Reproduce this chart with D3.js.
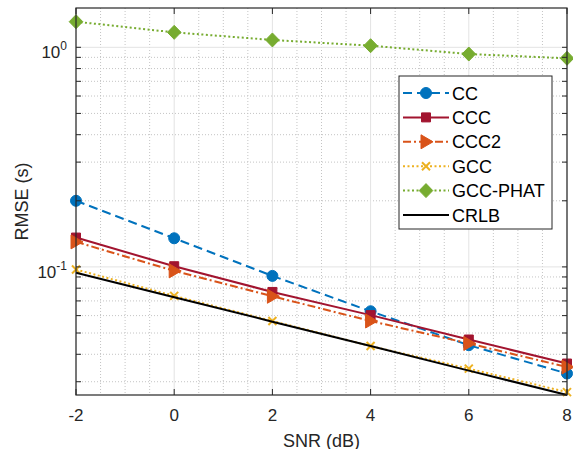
<!DOCTYPE html>
<html>
<head>
<meta charset="utf-8">
<script src="https://cdn.jsdelivr.net/npm/d3@7"></script>
<style>
  body { margin: 0; background: #fff; }
  svg { display: block; font-family: "Liberation Sans", Arial, sans-serif; }
</style>
</head>
<body>
<div id="chart"></div>
<script>
/**
 * Data.
 */
const snr = [-2, 0, 2, 4, 6, 8];
const cc = [0.200, 0.135, 0.091, 0.0628, 0.0440, 0.0327];
const ccc = [0.136, 0.1007, 0.0769, 0.0603, 0.0467, 0.0363];
const ccc2 = [0.130, 0.0959, 0.0735, 0.0567, 0.0448, 0.0350];
const gcc = [0.0973, 0.0738, 0.0567, 0.0436, 0.0344, 0.0269];
const gccPhat = [1.308, 1.170, 1.080, 1.017, 0.932, 0.891];
const crlb = [0.0940, 0.0728, 0.0563, 0.0436, 0.0337, 0.0261];
const seriesNames = ["CC", "CCC", "CCC2", "GCC", "GCC-PHAT", "CRLB"];
const xTicks = [-2, 0, 2, 4, 6, 8];
const yTicks = [1, 0.1];

/**
 * Dimensions.
 */
const Margin = { top: 8, right: 6, bottom: 54, left: 76 };
const Width = 573 - Margin.left - Margin.right;
const Height = 449 - Margin.top - Margin.bottom;
const AxisColor = "#262626";

// One style per series, same order as seriesNames.
const styles = [
    { color: "#0072BD", dash: "9,5", marker: "circle" },
    { color: "#A2142F", dash: null, marker: "square" },
    { color: "#D95319", dash: "8,3,2,3", marker: "triangle" },
    { color: "#EDB120", dash: "2,2.5", marker: "x" },
    { color: "#77AC30", dash: "2,2.5", marker: "diamond" },
    { color: "#000000", dash: null, marker: null },
];


const markerPath = (type) => {
    switch (type) {
        case "circle": return d3.symbol(d3.symbolCircle, 95)();
        case "square": return "M-4.5,-4.5H4.5V4.5H-4.5Z";
        case "triangle": return "M-5,-7L7,0L-5,7Z";
        case "diamond": return "M0,-7L6.8,0L0,7L-6.8,0Z";
        case "x": return "M-4,-4L4,4M-4,4L4,-4";
    }
    return null;
}


const createSvg = () => {
    const svg = d3.select("#chart")
        .append("svg")
            .attr("width", Width + Margin.left + Margin.right)
            .attr("height", Height + Margin.top + Margin.bottom)
        .append("g")
            .attr("transform", `translate(${Margin.left},${Margin.top})`);
    return svg;
}


const printGrid = (svg, x, y) => {
    // Minor grid, every 0.5 dB and 2..9 in each decade.
    const xMinor = d3.range(-2, 8.01, 0.5).filter(d => !xTicks.includes(d));
    const yMinor = [];
    [0.01, 0.1, 1].forEach(dec => d3.range(2, 10).forEach(k => {
        const v = dec * k;
        if (v > y.domain()[0] && v < y.domain()[1]) yMinor.push(v);
    }));
    const grid = svg.append("g");
    grid.selectAll(".xminor")
        .data(xMinor)
        .join("line")
            .attr("x1", d => x(d)).attr("x2", d => x(d))
            .attr("y1", 0).attr("y2", Height)
            .attr("stroke", "#c4c4c4")
            .attr("stroke-dasharray", "1,2");
    grid.selectAll(".yminor")
        .data(yMinor)
        .join("line")
            .attr("x1", 0).attr("x2", Width)
            .attr("y1", d => y(d)).attr("y2", d => y(d))
            .attr("stroke", "#c4c4c4")
            .attr("stroke-dasharray", "1,2");
    grid.selectAll(".xmajor")
        .data(xTicks)
        .join("line")
            .attr("x1", d => x(d)).attr("x2", d => x(d))
            .attr("y1", 0).attr("y2", Height)
            .attr("stroke", "#e3e3e3");
    grid.selectAll(".ymajor")
        .data(yTicks)
        .join("line")
            .attr("x1", 0).attr("x2", Width)
            .attr("y1", d => y(d)).attr("y2", d => y(d))
            .attr("stroke", "#e3e3e3");
    return yMinor;
}


const printAxes = (svg, x, y, yMinor) => {
    const g = svg.append("g");
    // Box.
    g.append("rect")
        .attr("width", Width).attr("height", Height)
        .attr("fill", "none")
        .attr("stroke", AxisColor)
        .attr("stroke-width", 1.2);
    // X ticks, inside, top and bottom.
    g.selectAll(".xt")
        .data(xTicks)
        .join("path")
            .attr("d", d => `M${x(d)},${Height}v-6M${x(d)},0v6`)
            .attr("stroke", AxisColor);
    // Y ticks, major and minor, left and right.
    g.selectAll(".yt")
        .data(yTicks.concat(yMinor))
        .join("path")
            .attr("d", d => `M0,${y(d)}h5M${Width},${y(d)}h-5`)
            .attr("stroke", AxisColor);
    // X tick labels.
    g.selectAll(".xl")
        .data(xTicks)
        .join("text")
            .attr("x", d => x(d))
            .attr("y", Height + 25.5)
            .attr("text-anchor", "middle")
            .style("font-size", "17px")
            .attr("fill", AxisColor)
            .text(d => d);
    // Y tick labels as 10^n.
    const yl = g.selectAll(".yl")
        .data(yTicks)
        .join("text")
            .attr("x", -9)
            .attr("y", d => y(d) + 11)
            .attr("text-anchor", "end")
            .attr("fill", AxisColor)
            .style("font-size", "17px");
    yl.append("tspan").text("10");
    yl.append("tspan")
        .attr("dy", -8)
        .style("font-size", "12px")
        .text(d => Math.round(Math.log10(d)));
    // Axis labels.
    svg.append("text")
        .attr("x", Width / 2)
        .attr("y", Height + 51.5)
        .attr("text-anchor", "middle")
        .style("font-size", "18px")
        .attr("fill", AxisColor)
        .text("SNR (dB)");
    svg.append("text")
        .attr("transform", `translate(${28 - Margin.left},${Height / 2}) rotate(-90)`)
        .attr("text-anchor", "middle")
        .style("font-size", "18px")
        .attr("fill", AxisColor)
        .text("RMSE (s)");
}


const drawMarker = (sel, style) => {
    sel.attr("d", markerPath(style.marker))
        .attr("fill", style.marker == "x" ? "none" : style.color)
        .attr("stroke", style.color)
        .attr("stroke-width", style.marker == "x" ? 2 : 1);
}


const printSeries = (svg, x, y, allSeries) => {
    const line = d3.line()
        .x(d => x(d[0]))
        .y(d => y(d[1]));
    allSeries.forEach((values, i) => {
        const style = styles[i];
        const pts = snr.map((s, j) => [s, values[j]]);
        const g = svg.append("g");
        g.append("path")
            .datum(pts)
            .attr("d", line)
            .attr("fill", "none")
            .attr("stroke", style.color)
            .attr("stroke-width", 2)
            .attr("stroke-dasharray", style.dash);
        if (style.marker) {
            g.selectAll("path.m")
                .data(pts)
                .join("path")
                    .attr("class", "m")
                    .attr("transform", d => `translate(${x(d[0])},${y(d[1])})`)
                    .call(drawMarker, style);
        }
    });
}


const printLegend = (svg) => {
    const lx = 399 - Margin.left, ly = 76 - Margin.top;
    const g = svg.append("g")
        .attr("transform", `translate(${lx},${ly})`);
    g.append("rect")
        .attr("width", 153).attr("height", 153)
        .attr("fill", "#fff")
        .attr("stroke", AxisColor)
        .attr("stroke-width", 1);
    const rows = g.selectAll(".row")
        .data(seriesNames)
        .join("g")
            .attr("transform", (d, i) => `translate(0,${17 + i * 24.4})`);
    rows.append("line")
        .attr("x1", 4).attr("x2", 50)
        .attr("stroke", (d, i) => styles[i].color)
        .attr("stroke-width", 2)
        .attr("stroke-dasharray", (d, i) => styles[i].dash);
    rows.filter((d, i) => styles[i].marker)
        .append("path")
            .attr("transform", "translate(27,0)")
            .each(function (d) {
                d3.select(this).call(drawMarker, styles[seriesNames.indexOf(d)]);
            });
    rows.append("text")
        .attr("x", 53)
        .attr("y", 6.5)
        .style("font-size", "18px")
        .attr("fill", "#000")
        .text(d => d);
}


const printChart = () => {
    const svg = createSvg();
    const x = d3.scaleLinear().domain([-2, 8]).range([0, Width]);
    const y = d3.scaleLog().domain([0.0261, 1.51]).range([Height, 0]);
    const yMinor = printGrid(svg, x, y);
    printSeries(svg, x, y, [cc, ccc, ccc2, gcc, gccPhat, crlb]);
    printAxes(svg, x, y, yMinor);
    printLegend(svg);
}


printChart();
</script>
</body>
</html>
